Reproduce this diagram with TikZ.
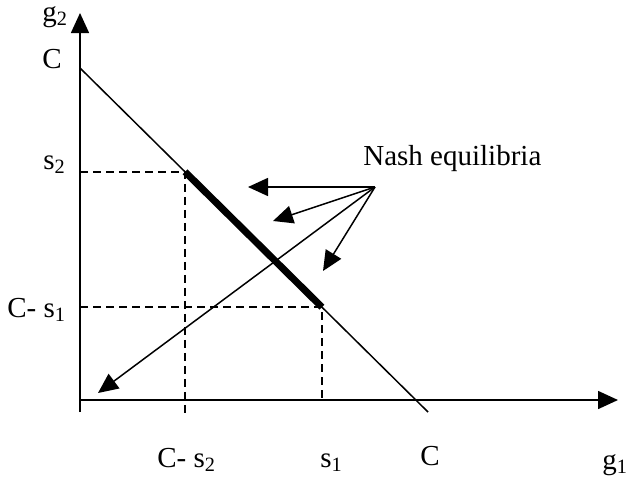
\documentclass[tikz,border=0pt]{standalone}
\usepackage{fontspec}
\setmainfont{Liberation Serif}
\usetikzlibrary{arrows.meta}
\begin{document}
\begin{tikzpicture}[x=0.5pt, y=-0.5pt,
  every node/.style={font=\fontsize{14.5}{17}\selectfont, inner sep=0pt, anchor=base west},
  axis/.style={black, line width=0.8pt, -{Triangle[length=10pt, width=9pt]}},
  guide/.style={black, line width=0.75pt, dash pattern=on 4pt off 2.5pt},
  pointer/.style={black, line width=0.75pt, -{Triangle[length=10pt, width=9pt]}}]
  \useasboundingbox (0,0) rectangle (627,477);
  % axes
  \coordinate (ybot) at (80,412);
  \coordinate (ytop) at (80,13);
  \coordinate (orig) at (80,400);
  \coordinate (xend) at (618,400);
  \draw[axis] (ybot) -- (ytop);
  \draw[axis] (orig) -- (xend);
  % budget line g1 + g2 = C
  \coordinate (cy) at (80,68);
  \coordinate (cx) at (428,412);
  \coordinate (ptwo) at (185,171.8);
  \coordinate (pone) at (322,307.2);
  \draw[black, line width=0.75pt] (cy) -- (cx);
  \draw[black, line width=3.5pt] (ptwo) -- (pone);
  \draw[guide] (80,171.8) -- (ptwo) -- (185,414);
  \draw[guide] (80,307.2) -- (pone) -- (322,400);
  % labels
  \node (lgtwo) at (42,21) {g\textsubscript{2}};
  \node (lcy) at (42,68) {C};
  \node (lstwo) at (43,169) {s\textsubscript{2}};
  \node (lcsone) at (7,317) {C- s\textsubscript{1}};
  \node (lcstwo) at (157,467) {C- s\textsubscript{2}};
  \node (lsone) at (320,467) {s\textsubscript{1}};
  \node (lcx) at (420,465) {C};
  \node (lgone) at (602,469) {g\textsubscript{1}};
  \node (nash) at (363,165) {Nash equilibria};
  % pointers
  \coordinate (hub) at (375,187);
  \coordinate (ta) at (248,187);
  \coordinate (tb) at (273,221);
  \coordinate (tc) at (323,271);
  \coordinate (td) at (98,393);
  \foreach \t in {ta,tb,tc,td}
    \draw[pointer] (hub) -- (\t);
\end{tikzpicture}
\end{document}
